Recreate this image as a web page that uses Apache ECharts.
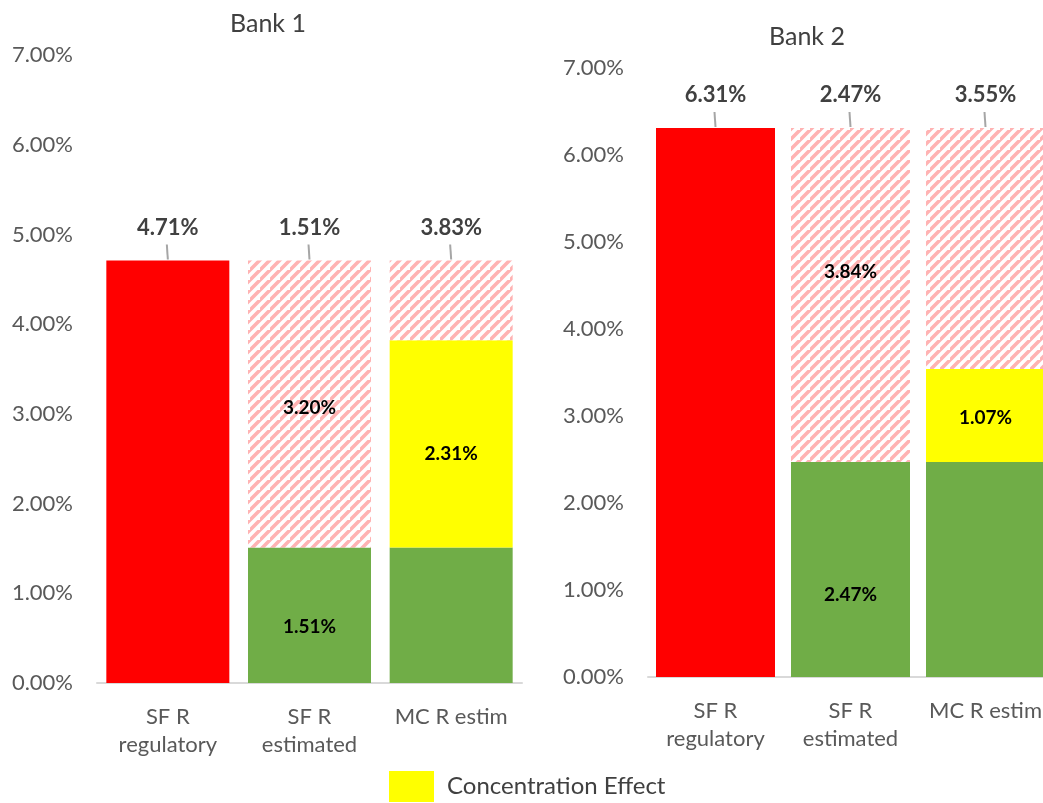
<!DOCTYPE html>
<html>
<head>
<meta charset="utf-8">
<script src="https://cdn.jsdelivr.net/npm/echarts@6/dist/echarts.min.js"></script>
<style>html,body{margin:0;padding:0;background:#fff;overflow:hidden}#c{width:1070px;height:803px}</style>
</head>
<body>
<div id="c"></div>
<script>
// ---- data ----
const categories = ['SF R\nregulatory', 'SF R\nestimated', 'MC R estim'];
const yTicks = [0, 1, 2, 3, 4, 5, 6, 7];
const titles = ['Bank 1', 'Bank 2'];
const legendName = 'Concentration Effect';

const bank1Regulatory    = [4.71, null, null];
const bank1Estimated     = [null, 1.51, 1.51];
const bank1Concentration = [null, null, 2.31];
const bank1Gap           = [null, 3.20, 0.89];
const bank1TopLabels     = [4.71, 1.51, 3.83];

const bank2Regulatory    = [6.31, null, null];
const bank2Estimated     = [null, 2.47, 2.47];
const bank2Concentration = [null, null, 1.07];
const bank2Gap           = [null, 3.84, 2.77];
const bank2TopLabels     = [6.31, 2.47, 3.55];

// which segments show an inside label
const bank1GapLabel = [false, true, false];
const bank2GapLabel = [false, true, false];

// ---- styling helpers ----
const FONT = 'Lato, "Liberation Sans", sans-serif';
function makeHatch() {
  const s = 10;
  const cv = document.createElement('canvas');
  cv.width = s; cv.height = s;
  const ctx = cv.getContext('2d');
  ctx.fillStyle = '#ffffff';
  ctx.fillRect(0, 0, s, s);
  ctx.strokeStyle = '#ffb3b3';
  ctx.lineWidth = 3.6;
  ctx.beginPath();
  ctx.moveTo(-2, s + 2); ctx.lineTo(s + 2, -2);
  ctx.moveTo(-2 - s, s + 2); ctx.lineTo(2, -2);
  ctx.moveTo(s - 2, 2 * s + 2); ctx.lineTo(2 * s + 2, s - 2);
  ctx.stroke();
  return cv;
}
const hatch = makeHatch();
const pct = v => v.toFixed(2) + '%';

const insideLabel = {
  show: true, position: 'inside', color: '#000', fontWeight: 'bold',
  fontSize: 19, fontFamily: FONT, formatter: p => pct(p.value)
};

function bankSeries(idx, reg, est, conc, gap, gapLbl, top, barWidth, offsets) {
  const stack = 's' + idx;
  const base = { type: 'bar', xAxisIndex: idx, yAxisIndex: idx, stack: stack, barWidth: barWidth, barGap: '-100%' };
  return [
    Object.assign({}, base, {
      name: 'Regulatory' + idx, data: reg,
      itemStyle: { color: '#ff0000' }
    }),
    Object.assign({}, base, {
      name: 'Estimated' + idx,
      data: est.map((v, i) => v == null ? null : {
        value: v,
        label: Object.assign({}, insideLabel, { show: i === 1, offset: [0, offsets.est] })
      }),
      itemStyle: { color: '#70ad47' }
    }),
    Object.assign({}, base, {
      name: legendName, data: conc,
      itemStyle: { color: '#ffff00' },
      label: Object.assign({}, insideLabel, { offset: [0, offsets.conc] })
    }),
    Object.assign({}, base, {
      name: 'Gap' + idx,
      data: gap.map((v, i) => v == null ? null : {
        value: v,
        label: Object.assign({}, insideLabel, { show: gapLbl[i], offset: [0, offsets.gap] })
      }),
      itemStyle: { color: { image: hatch, repeat: 'repeat' } }
    }),
    {
      type: 'custom', name: 'Top' + idx, xAxisIndex: idx, yAxisIndex: idx, z: 5,
      data: top.map((v, i) => {
        const total = (reg[i] || 0) + (est[i] || 0) + (conc[i] || 0) + (gap[i] || 0);
        return [i, total, v];
      }),
      renderItem: function (params, api) {
        const p = api.coord([api.value(0), api.value(1)]);
        return {
          type: 'group',
          children: [
            { type: 'line', shape: { x1: p[0], y1: p[1] - 1, x2: p[0] - 1, y2: p[1] - 16 },
              style: { stroke: '#a6a6a6', lineWidth: 2 } },
            { type: 'text', x: p[0], y: p[1] - 33,
              style: { text: pct(api.value(2)), fill: '#404040', font: 'bold 22px ' + FONT,
                       textAlign: 'center', textVerticalAlign: 'middle' } }
          ]
        };
      }
    }
  ];
}

const xAxisCommon = {
  type: 'category', data: categories,
  axisLine: { lineStyle: { color: '#d9d9d9', width: 2 } },
  axisTick: { show: false },
  axisLabel: { color: '#595959', fontSize: 22, fontFamily: FONT, lineHeight: 28, margin: 20, interval: 0 }
};
const yAxisCommon = {
  type: 'value', min: 0, max: 7, interval: 1,
  splitLine: { show: false }, axisLine: { show: false }, axisTick: { show: false },
  axisLabel: { color: '#595959', fontSize: 22, fontFamily: FONT, margin: 24,
               formatter: v => yTicks.indexOf(v) >= 0 ? pct(v) : '' }
};

const chart = echarts.init(document.getElementById('c'), null, { renderer: 'canvas' });
chart.setOption({
  animation: false,
  title: [
    { text: titles[0], left: 263, top: 6, textAlign: 'center',
      textStyle: { fontSize: 25, fontWeight: 'normal', color: '#404040', fontFamily: FONT } },
    { text: titles[1], left: 802, top: 19, textAlign: 'center',
      textStyle: { fontSize: 25, fontWeight: 'normal', color: '#404040', fontFamily: FONT } }
  ],
  legend: {
    data: [legendName], left: 389, top: 771, padding: 0, itemWidth: 45, itemHeight: 31,
    icon: 'rect',
    textStyle: { fontSize: 24, color: '#404040', fontFamily: FONT, padding: [0, 0, 0, 8] }
  },
  grid: [
    { left: 97, top: 55, width: 425, height: 628 },
    { left: 648, top: 68, width: 405, height: 609 }
  ],
  xAxis: [
    Object.assign({}, xAxisCommon, { gridIndex: 0 }),
    Object.assign({}, xAxisCommon, { gridIndex: 1 })
  ],
  yAxis: [
    Object.assign({}, yAxisCommon, { gridIndex: 0 }),
    Object.assign({}, yAxisCommon, { gridIndex: 1 })
  ],
  series: [].concat(
    bankSeries(0, bank1Regulatory, bank1Estimated, bank1Concentration, bank1Gap, bank1GapLabel, bank1TopLabels, 123,
               { est: 12, conc: 10, gap: 4 }),
    bankSeries(1, bank2Regulatory, bank2Estimated, bank2Concentration, bank2Gap, bank2GapLabel, bank2TopLabels, 119,
               { est: 25, conc: 2, gap: -23 })
  )
});
</script>
</body>
</html>
